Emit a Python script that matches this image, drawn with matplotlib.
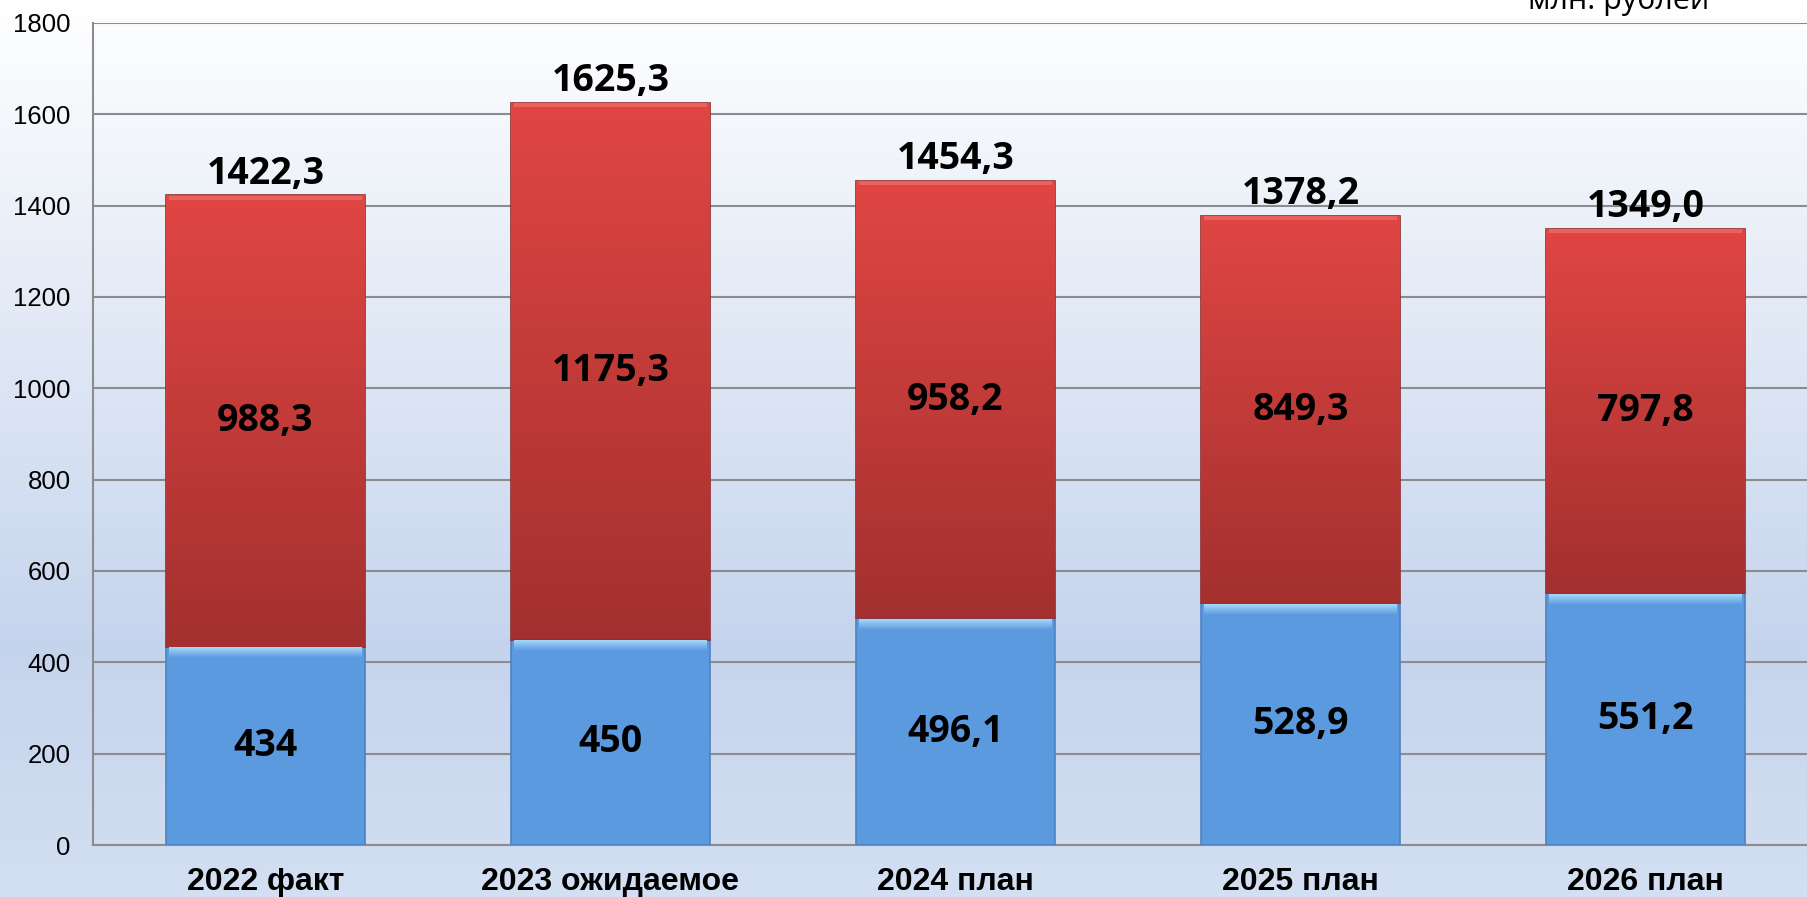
import numpy as np
import matplotlib.pyplot as plt
from matplotlib.colors import LinearSegmentedColormap

categories = ['2022 факт', '2023 ожидаемое', '2024 план', '2025 план', '2026 план']
blue_vals = [434, 450, 496.1, 528.9, 551.2]
red_vals = [988.3, 1175.3, 958.2, 849.3, 797.8]
blue_labels = ['434', '450', '496,1', '528,9', '551,2']
red_labels = ['988,3', '1175,3', '958,2', '849,3', '797,8']
total_labels = ['1422,3', '1625,3', '1454,3', '1378,2', '1349,0']
yticks = list(range(0, 1801, 200))

fig = plt.figure(figsize=(18.08, 8.97), dpi=100)

# background gradient over the whole figure
bg = fig.add_axes([0, 0, 1, 1], zorder=-10)
bg_cmap = LinearSegmentedColormap.from_list(
    'bg', [(0, '#ffffff'), (0.72, '#c5d4ed'), (1.0, '#d3dff2')])
bg.imshow(np.linspace(0, 1, 256).reshape(-1, 1), aspect='auto', cmap=bg_cmap,
          extent=[0, 1, 0, 1], origin='upper')
bg.axis('off')

ax = fig.add_axes([93 / 1808, 1 - 845 / 897, 1725 / 1808, 822 / 897])
ax.set_facecolor('none')

x = np.arange(len(categories))
w = 0.574
blue_bars = ax.bar(x, blue_vals, w, color='#5c9ae0', edgecolor='#4f82c0',
                   linewidth=1.2, zorder=3)
red_bars = ax.bar(x, red_vals, w, bottom=blue_vals, color='#c23b39',
                  edgecolor='#8e2c2a', linewidth=1.2, zorder=3)

# vertical gradient inside the red segments
red_cmap = LinearSegmentedColormap.from_list('red', ['#e04643', '#a3302f'])
for p in red_bars:
    x0, y0, bw, bh = p.get_x(), p.get_y(), p.get_width(), p.get_height()
    im = ax.imshow(np.linspace(0, 1, 128).reshape(-1, 1), aspect='auto',
                   cmap=red_cmap, extent=[x0, x0 + bw, y0, y0 + bh],
                   origin='upper', zorder=3.5)
    im.set_clip_path(p)
    # light top bevel
    ax.bar(x0 + bw / 2, 8, bw * 0.97, bottom=y0 + bh - 9, color='#ea615d',
           linewidth=0, zorder=3.6)

# light top bevel on blue segments
blue_cmap = LinearSegmentedColormap.from_list('bev', ['#a6d8fa', '#5c9ae0'])
for p in blue_bars:
    x0, y0, bw, bh = p.get_x(), p.get_y(), p.get_width(), p.get_height()
    bev = ax.bar(x0 + bw / 2, 24, bw * 0.97, bottom=y0 + bh - 25,
                 linewidth=0, zorder=3.6)[0]
    im = ax.imshow(np.linspace(0, 1, 32).reshape(-1, 1), aspect='auto',
                   cmap=blue_cmap, extent=[x0, x0 + bw, y0 + bh - 25, y0 + bh - 1],
                   origin='upper', zorder=3.6)
    im.set_clip_path(bev)
    bev.set_visible(False)

ax.set_xlim(-0.5, len(categories) - 0.5)
ax.set_ylim(0, 1800)
ax.set_yticks(yticks)
ax.set_xticks(x)
ax.set_xticklabels(categories, fontsize=23, fontweight='bold',
                   family='Liberation Sans')
for lab in ax.get_yticklabels():
    lab.set_family('Liberation Sans')
ax.tick_params(axis='y', length=0, pad=16, labelsize=18.5)
ax.tick_params(axis='x', length=0, pad=16)
ax.grid(axis='y', color='#8c8c8c', linewidth=1.5, zorder=0)
ax.set_axisbelow(True)
for s in ['top', 'right']:
    ax.spines[s].set_visible(False)
for s in ['left', 'bottom']:
    ax.spines[s].set_color('#8c8c8c')
    ax.spines[s].set_linewidth(1.5)

lab_font = dict(fontsize=27, fontweight='bold', family='Open Sans',
                ha='center', va='center', zorder=5)
for i in range(len(categories)):
    ax.text(x[i], blue_vals[i] / 2, blue_labels[i], **lab_font)
    ax.text(x[i], blue_vals[i] + red_vals[i] / 2, red_labels[i], **lab_font)
    ax.annotate(total_labels[i], (x[i], blue_vals[i] + red_vals[i]),
                xytext=(0, 2), textcoords='offset points', ha='center',
                va='bottom', fontsize=27, fontweight='bold',
                family='Open Sans', zorder=5)

fig.text(1619 / 1808, 1 - 9 / 897, 'млн. рублей', ha='center', va='baseline',
         fontsize=22, family='Open Sans')

fig.savefig('out.png', dpi=100)
